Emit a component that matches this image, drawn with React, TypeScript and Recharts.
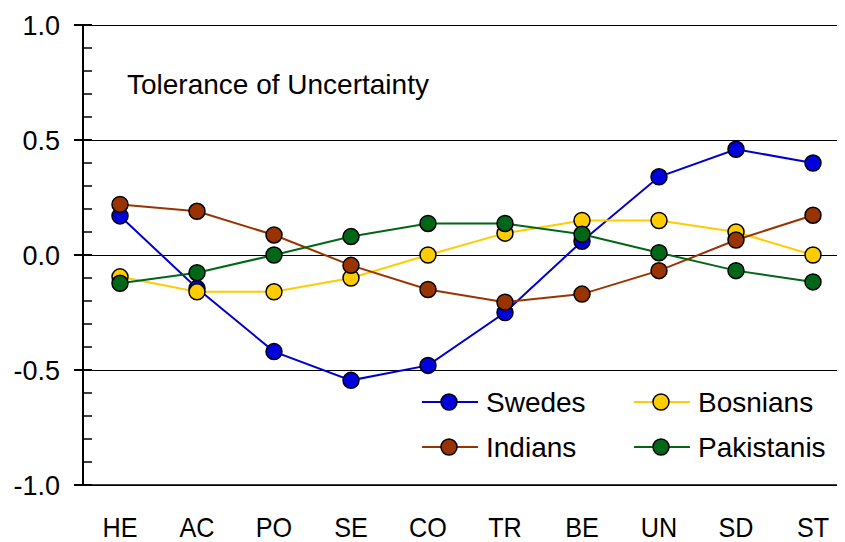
import React from "react";
import { LineChart, Line, XAxis, YAxis, ReferenceLine } from "recharts";

const categories = ["HE", "AC", "PO", "SE", "CO", "TR", "BE", "UN", "SD", "ST"];
const swedes = [0.17, -0.145, -0.42, -0.545, -0.48, -0.25, 0.06, 0.34, 0.46, 0.4];
const bosnians = [-0.095, -0.16, -0.16, -0.1, 0.0, 0.095, 0.15, 0.15, 0.1, 0.0];
const indians = [0.22, 0.19, 0.087, -0.045, -0.15, -0.205, -0.17, -0.068, 0.065, 0.173];
const pakistanis = [-0.123, -0.077, 0.0, 0.08, 0.137, 0.137, 0.09, 0.01, -0.068, -0.117];
const yTicks = [-1, -0.9, -0.8, -0.7, -0.6, -0.5, -0.4, -0.3, -0.2, -0.1, 0, 0.1, 0.2, 0.3, 0.4, 0.5, 0.6, 0.7, 0.8, 0.9, 1];
const gridValues = [-1, -0.5, 0, 0.5, 1];
const xIndices = categories.map((_, i) => i);

const series = [
  { key: "Swedes", values: swedes, stroke: "#0000CC", fill: "#0000DD" },
  { key: "Bosnians", values: bosnians, stroke: "#FFCC00", fill: "#FFCC00" },
  { key: "Indians", values: indians, stroke: "#993300", fill: "#993300" },
  { key: "Pakistanis", values: pakistanis, stroke: "#006618", fill: "#006618" },
];

const data = categories.map((c, i) => ({
  i,
  cat: c,
  Swedes: swedes[i],
  Bosnians: bosnians[i],
  Indians: indians[i],
  Pakistanis: pakistanis[i],
}));

const FONT = "'Liberation Sans', Arial, sans-serif";

const YTick = (props: any) => {
  const { x, y, payload } = props;
  const v = payload.value;
  const major = Math.abs(v * 2 - Math.round(v * 2)) < 1e-6;
  return (
    <g>
      {major ? (
        <line x1={x - 9} x2={x + 9} y1={y} y2={y} stroke="#000" strokeWidth={2} />
      ) : (
        <line x1={x} x2={x + 9} y1={y} y2={y} stroke="#000" strokeWidth={1.5} />
      )}
      {major && (
        <text x={x - 23} y={y + 10} textAnchor="end" fontSize={27} fontFamily={FONT} fill="#000">
          {v.toFixed(1)}
        </text>
      )}
    </g>
  );
};

const XTick = (props: any) => {
  const { x, y, payload } = props;
  return (
    <text
      transform={`translate(${x},${y + 24}) scale(0.9,1)`}
      textAnchor="middle"
      fontSize={28}
      fontFamily={FONT}
      fill="#000"
    >
      {categories[payload.value]}
    </text>
  );
};

const LegendBox = () => (
  <div
    style={{
      position: "absolute",
      left: 414,
      top: 371.5,
      display: "grid",
      gridTemplateColumns: "212px 212px",
      fontFamily: FONT,
      fontSize: 28,
      color: "#000",
    }}
  >
    {series.map((s) => (
      <div key={s.key} style={{ display: "flex", alignItems: "center", height: 45 }}>
        <svg width={56} height={22} style={{ display: "block" }}>
          <line x1={0} x2={56} y1={11} y2={11} stroke={s.stroke} strokeWidth={2} />
          <circle cx={27} cy={11} r={8} fill={s.fill} stroke="#000" strokeWidth={1.5} />
        </svg>
        <span style={{ marginLeft: 8, lineHeight: "45px", whiteSpace: "nowrap" }}>{s.key}</span>
      </div>
    ))}
  </div>
);

export default function App() {
  return (
    <div style={{ position: "relative", width: 837, height: 534 }}>
      <LineChart width={837} height={534} data={data} margin={{ top: 17, right: 0, bottom: 0, left: 0 }}>
        <XAxis
          type="number"
          dataKey="i"
          domain={[-0.4805, 9.4156]}
          ticks={xIndices}
          allowDataOverflow
          axisLine={{ stroke: "#000", strokeWidth: 1.5 }}
          tickLine={false}
          tickSize={0}
          tickMargin={28}
          height={57}
          tick={<XTick />}
        />
        <YAxis
          type="number"
          domain={[-1, 1]}
          ticks={yTicks}
          interval={0}
          width={75}
          axisLine={{ stroke: "#000", strokeWidth: 2 }}
          tickLine={false}
          tickSize={0}
          tickMargin={0}
          tick={<YTick />}
        />
        {gridValues.map((v) => (
          <ReferenceLine
            key={v}
            y={v}
            stroke="#000"
            strokeWidth={1}
            shapeRendering="crispEdges"
            ifOverflow="extendDomain"
          />
        ))}
        {series.map((s) => (
          <Line
            key={s.key}
            type="linear"
            dataKey={s.key}
            stroke={s.stroke}
            strokeWidth={2}
            dot={{ r: 8, fill: s.fill, stroke: "#000", strokeWidth: 1.5 }}
            activeDot={false}
            isAnimationActive={false}
          />
        ))}
      </LineChart>
      <LegendBox />
      <div
        style={{
          position: "absolute",
          left: 119,
          top: 63,
          fontFamily: FONT,
          fontSize: 28,
          lineHeight: "28px",
          whiteSpace: "nowrap",
          color: "#000",
        }}
      >
        Tolerance of Uncertainty
      </div>
    </div>
  );
}
